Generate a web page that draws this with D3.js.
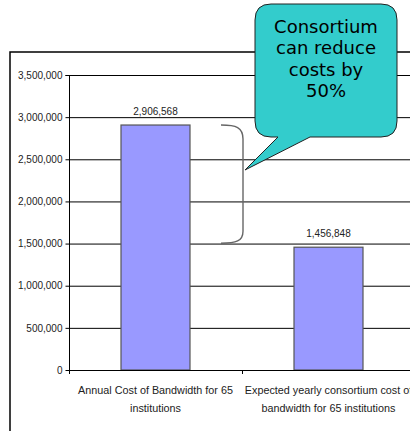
<!DOCTYPE html>
<html><head><meta charset="utf-8">
<script src="https://cdnjs.cloudflare.com/ajax/libs/d3/7.8.5/d3.min.js"></script>
<style>body{margin:0;background:#fff;overflow:hidden}</style>
</head><body>
<script>
const categories = [
  ["Annual Cost of Bandwidth for 65", "institutions"],
  ["Expected yearly consortium cost of", "bandwidth for 65 institutions"]
];
const values = [2906568, 1456848];
const yTicks = [0, 500000, 1000000, 1500000, 2000000, 2500000, 3000000, 3500000];
const calloutLines = ["Consortium", "can reduce", "costs by", "50%"];

(function () {
const W = 410, H = 431;
const svg = d3.select("body").append("svg").attr("width", W).attr("height", H);

// outer frame
svg.append("rect").attr("x", 10).attr("y", 52).attr("width", 500).attr("height", 500)
  .attr("fill", "#fff").attr("stroke", "#000").attr("stroke-width", 1.5);

const pLeft = 69, pBottom = 370, pTop = 75;
const x = d3.scaleBand().domain(d3.range(categories.length)).range([pLeft, pLeft + 346]).paddingInner(0).paddingOuter(0);
const y = d3.scaleLinear().domain([0, 3500000]).range([pBottom, pTop]);
const fmt = d3.format(",");
const font = "'Liberation Sans', Arial, sans-serif";

// gridlines
svg.append("g").selectAll("line").data(yTicks.filter(d => d > 0)).join("line")
  .attr("x1", pLeft).attr("x2", W).attr("y1", d => y(d) + 0.5).attr("y2", d => y(d) + 0.5)
  .attr("stroke", "#000").attr("stroke-width", 1);

// y axis
const yAxis = svg.append("g").attr("transform", `translate(${pLeft + 0.5},0)`)
  .call(d3.axisLeft(y).tickValues(yTicks).tickFormat(fmt).tickSize(4).tickPadding(3));
yAxis.selectAll("text").attr("font-family", font).attr("font-size", 10).attr("fill", "#222");
yAxis.selectAll("line,path").attr("stroke", "#000");
yAxis.select("path").attr("d", `M-4,${pTop + 0.5}H0V${pBottom + 0.5}`);
yAxis.selectAll(".tick").attr("transform", d => `translate(0,${y(d) + 0.5})`);

// bars
const bw = 69;
svg.append("g").selectAll("rect").data(values).join("rect")
  .attr("x", (d, i) => x(i) + x.bandwidth() / 2 - bw / 2)
  .attr("width", bw)
  .attr("y", d => y(d))
  .attr("height", d => pBottom - y(d))
  .attr("fill", "#9999FF").attr("stroke", "#555").attr("stroke-width", 1.2);

// x axis
svg.append("line").attr("x1", pLeft).attr("x2", W).attr("y1", pBottom + 0.5).attr("y2", pBottom + 0.5)
  .attr("stroke", "#000");
svg.append("g").selectAll("line").data(d3.range(categories.length + 1)).join("line")
  .attr("x1", i => pLeft + i * x.bandwidth() + 0.5).attr("x2", i => pLeft + i * x.bandwidth() + 0.5)
  .attr("y1", pBottom).attr("y2", pBottom + 4).attr("stroke", "#000");

// value labels
svg.append("g").selectAll("text").data(values).join("text")
  .attr("x", (d, i) => x(i) + x.bandwidth() / 2)
  .attr("y", d => y(d) - 10)
  .attr("text-anchor", "middle").attr("font-family", font).attr("font-size", 10).attr("fill", "#222")
  .text(d => fmt(d));

// category labels
const cat = svg.append("g").selectAll("text").data(categories).join("text")
  .attr("x", (d, i) => x(i) + x.bandwidth() / 2)
  .attr("y", 394)
  .attr("text-anchor", "middle").attr("font-family", font).attr("font-size", 10.8).attr("fill", "#222");
cat.selectAll("tspan").data(d => d).join("tspan")
  .attr("x", function () { return this.parentNode.getAttribute("x"); })
  .attr("dy", (d, i) => i === 0 ? 0 : 18)
  .text(d => d);

// bracket
const bTop = y(values[0]), bBot = y(values[1]) - 4;
svg.append("path")
  .attr("d", `M221,${bTop} C236,${bTop} 243,${bTop + 2} 243,${bTop + 14} L243,${bBot - 12} C243,${bBot - 2} 236,${bBot} 221,${bBot}`)
  .attr("fill", "none").attr("stroke", "#666").attr("stroke-width", 1.4);

// callout
const cx0 = 255, cx1 = 397, cy0 = 4, cy1 = 137, r = 16;
const tipX = 245, tipY = 170, t0 = 278, t1 = 310;
const cp = `M${cx0 + r},${cy0} H${cx1 - r} Q${cx1},${cy0} ${cx1},${cy0 + r} V${cy1 - r} Q${cx1},${cy1} ${cx1 - r},${cy1}
 H${t1} L${tipX},${tipY} L${t0},${cy1} H${cx0 + r} Q${cx0},${cy1} ${cx0},${cy1 - r} V${cy0 + r} Q${cx0},${cy0} ${cx0 + r},${cy0} Z`;
svg.append("path").attr("d", cp).attr("fill", "#33CCCC").attr("stroke", "#222").attr("stroke-width", 1);
svg.append("g").selectAll("text").data(calloutLines).join("text")
  .attr("x", 326).attr("y", (d, i) => 32.5 + i * 21.5)
  .attr("text-anchor", "middle").attr("font-family", "'DejaVu Sans', Verdana, sans-serif")
  .attr("font-size", 18).attr("fill", "#000").text(d => d);
})();
</script>
</body></html>
